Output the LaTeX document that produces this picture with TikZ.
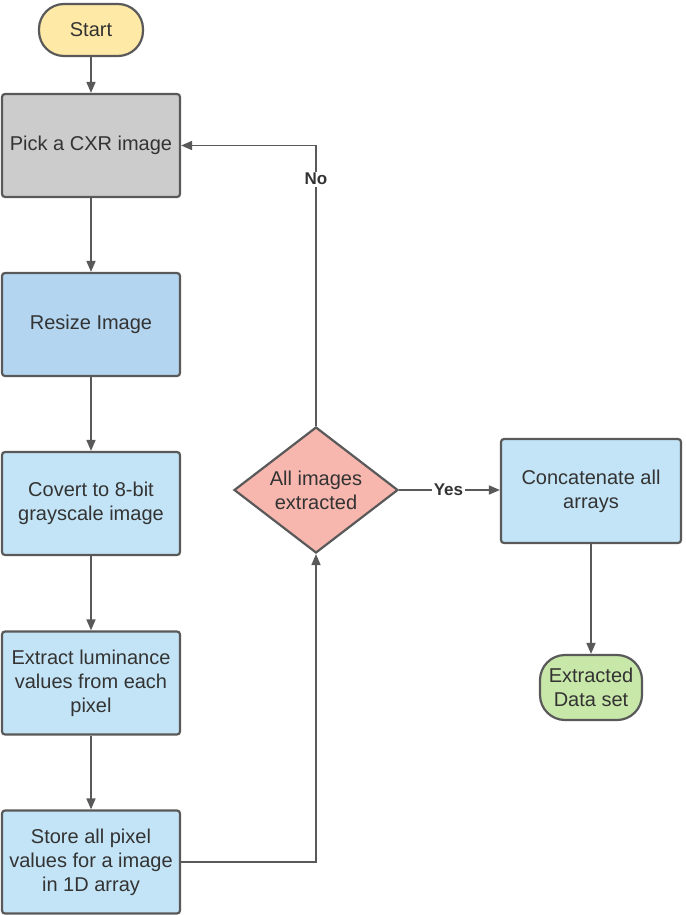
\documentclass[tikz,border=0pt]{standalone}
\usepackage{fontspec}
\setmainfont{Liberation Sans}
\usetikzlibrary{shapes.geometric,arrows.meta}
\definecolor{edgec}{HTML}{595959}
\definecolor{txt}{HTML}{333333}
\definecolor{startc}{HTML}{FFE9A6}
\definecolor{grayc}{HTML}{CCCCCC}
\definecolor{blued}{HTML}{B3D5F0}
\definecolor{bluel}{HTML}{C3E4F6}
\definecolor{pinkc}{HTML}{F7B6AE}
\definecolor{greenc}{HTML}{C8E8A9}
\begin{document}
\begin{tikzpicture}[x=1pt,y=-1pt,
  base/.style={draw=edgec,line width=2.2pt,text=txt,align=center,inner sep=0pt,
    font=\fontsize{20}{24}\selectfont},
  procbox/.style={base,rectangle,rounded corners=3pt,minimum width=178pt,minimum height=103pt},
  term/.style={base,rectangle,rounded corners=25pt},
  decis/.style={base,diamond,fill=pinkc,minimum width=164pt,minimum height=126pt,aspect=1.3},
  arr/.style={draw=edgec,line width=1.7pt,-{Triangle[length=11pt,width=9pt]}},
  lbl/.style={font=\bfseries\fontsize{17}{19}\selectfont,text=txt,fill=white,inner sep=1.5pt}
]
\useasboundingbox (0,0) rectangle (685,915);
\node[term,fill=startc,minimum width=104pt,minimum height=52pt] (start) at (91,30) {Start};
\node[procbox,fill=grayc] (pick) at (91,145.5) {Pick a CXR image};
\node[procbox,fill=blued] (resize) at (91,324.5) {Resize Image};
\node[procbox,fill=bluel] (convert) at (91,503.5) {Covert to 8-bit\\grayscale image};
\node[procbox,fill=bluel] (extract) at (91,683) {Extract luminance\\values from each\\pixel};
\node[procbox,fill=bluel] (store) at (91,862) {Store all pixel\\values for a image\\in 1D array};
\node[decis] (dia) at (316,490) {All images\\extracted};
\node[procbox,fill=bluel,minimum width=180pt,minimum height=104pt] (concat) at (591,491) {Concatenate all\\arrays};
\node[term,fill=greenc,minimum width=102pt,minimum height=65pt] (end) at (591,687.5) {Extracted\\Data set};
\draw[arr] (start) -- (pick);
\draw[arr] (pick) -- (resize);
\draw[arr] (resize) -- (convert);
\draw[arr] (convert) -- (extract);
\draw[arr] (extract) -- (store);
\draw[arr] (store.east) -| (dia.south);
\draw[arr] (dia.north) |- node[lbl,pos=0.44] {No} (pick.east);
\draw[arr] (dia.east) -- node[lbl,pos=0.49] {Yes} (dia.east -| concat.west);
\draw[arr] (concat) -- (end);
\end{tikzpicture}
\end{document}
